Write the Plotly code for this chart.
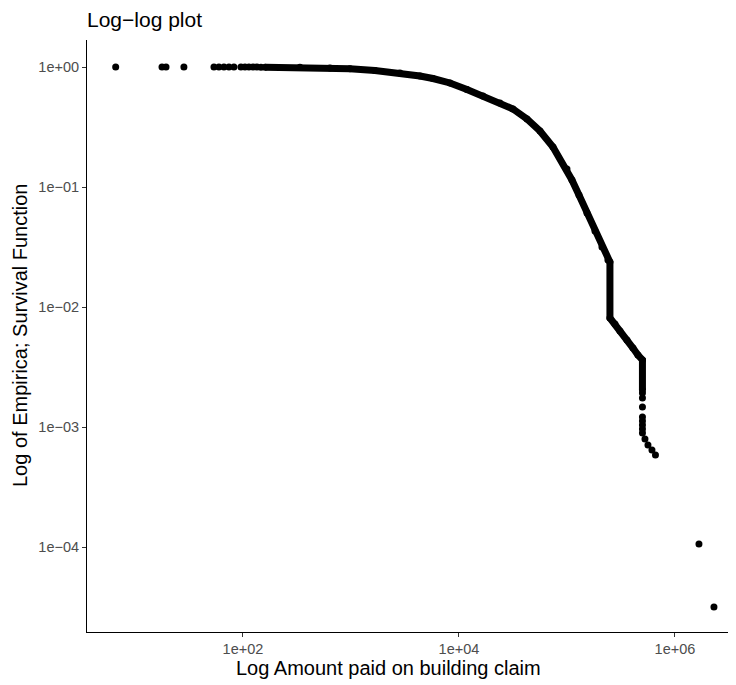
import plotly.graph_objects as go

# Isolated points at the top (survival ~ 1)
top_amount = [6.63, 17.8, 19.4, 28.4, 53.9, 59.9, 66.7, 74.2, 82.5, 95.8, 104.4, 113.6, 123.8, 134.8, 146.8]
top_surv = [0.9999, 0.9998, 0.9997, 0.9996, 0.9995, 0.9994, 0.9993, 0.9992, 0.9991, 0.999, 0.9988, 0.9986, 0.9984, 0.998, 0.9975]

# Dense part of the empirical survival curve
dense_amount = [160, 337, 639, 979, 1668, 2842, 4355, 5745, 8254, 11860, 16680, 23960, 31620,
                42620, 56230, 74220, 100000, 111200, 129200, 153200, 181700, 210900, 239600,
                250000, 250000, 278300, 309500, 359400, 408500, 454400, 500000, 500000]
dense_surv = [0.997, 0.994, 0.981, 0.968, 0.935, 0.891, 0.841, 0.802, 0.736, 0.650, 0.573, 0.501, 0.447,
              0.369, 0.293, 0.215, 0.1413, 0.1144, 0.0858, 0.0607, 0.0430, 0.0316, 0.0246,
              0.0237, 0.0081, 0.00722, 0.00631, 0.00531, 0.00455, 0.00398, 0.00362, 0.00203]

# Sparse tail
tail_amount = [500000, 500000, 500000, 500000, 500000, 500000, 500000, 500000,
               527600, 562300, 612400, 659800, 1668000, 2297000]
tail_surv = [0.00192, 0.001745, 0.001468, 0.001212, 0.001122, 0.001039, 0.000962, 0.000891,
             0.000794, 0.000708, 0.000643, 0.000584, 0.000106, 0.0000316]

x_tickvals = [1e2, 1e4, 1e6]
x_ticktext = ["1e+02", "1e+04", "1e+06"]
y_tickvals = [1, 1e-1, 1e-2, 1e-3, 1e-4]
y_ticktext = ["1e+00", "1e\u221201", "1e\u221202", "1e\u221203", "1e\u221204"]

# page body has an 8px margin, so the figure is drawn 8px smaller and shifted
OFF = 8
W, H = 736 - OFF, 685 - OFF
L, T, B = 87 - OFF, 40 - OFF, 685 - 632
PW = W - L
PH = H - T - B

MS = 7
fig = go.Figure()
fig.add_trace(go.Scatter(x=top_amount, y=top_surv, mode="markers",
                         marker=dict(color="black", size=MS, line=dict(width=0)), showlegend=False))
fig.add_trace(go.Scatter(x=dense_amount, y=dense_surv, mode="lines+markers",
                         line=dict(color="black", width=MS),
                         marker=dict(color="black", size=MS, line=dict(width=0)), showlegend=False))
fig.add_trace(go.Scatter(x=tail_amount, y=tail_surv, mode="markers",
                         marker=dict(color="black", size=MS, line=dict(width=0)), showlegend=False))

font = "Liberation Sans, Arial, sans-serif"
fig.update_layout(
    width=W, height=H,
    margin=dict(l=L, r=0, t=T, b=B, autoexpand=False),
    plot_bgcolor="white", paper_bgcolor="white",
    font=dict(family=font, color="black"),
    title=dict(text="Log\u2212log plot", x=0, xref="paper", xanchor="left",
               y=1 - (20 - OFF) / H, yref="container", yanchor="middle",
               font=dict(size=21, color="black", family=font)),
    annotations=[
        dict(text="Log Amount paid on building claim", xref="paper", yref="paper",
             x=(388 - 87) / PW, y=-(668 - 632) / PH, xanchor="center", yanchor="middle", showarrow=False,
             font=dict(size=20, color="black", family=font)),
        dict(text="Log of Empirica; Survival Function", xref="paper", yref="paper",
             x=-(87 - 20) / PW, y=0.5, xanchor="center", yanchor="middle", showarrow=False,
             textangle=-90, font=dict(size=20, color="black", family=font)),
    ],
)
fig.update_xaxes(type="log", range=[0.556, 0.556 + PW / 108], tickvals=x_tickvals, ticktext=x_ticktext,
                 showgrid=False, zeroline=False, showline=True, linecolor="black", linewidth=1,
                 ticks="outside", ticklen=4, tickcolor="#333333",
                 tickfont=dict(size=14.5, color="#4D4D4D", family=font))
fig.update_yaxes(type="log", range=[0.225 - PH / 120, 0.225], tickvals=y_tickvals, ticktext=y_ticktext,
                 showgrid=False, zeroline=False, showline=True, linecolor="black", linewidth=1,
                 ticks="outside", ticklen=4, tickcolor="#333333",
                 tickfont=dict(size=14.5, color="#4D4D4D", family=font))

fig.write_html("out.html")
